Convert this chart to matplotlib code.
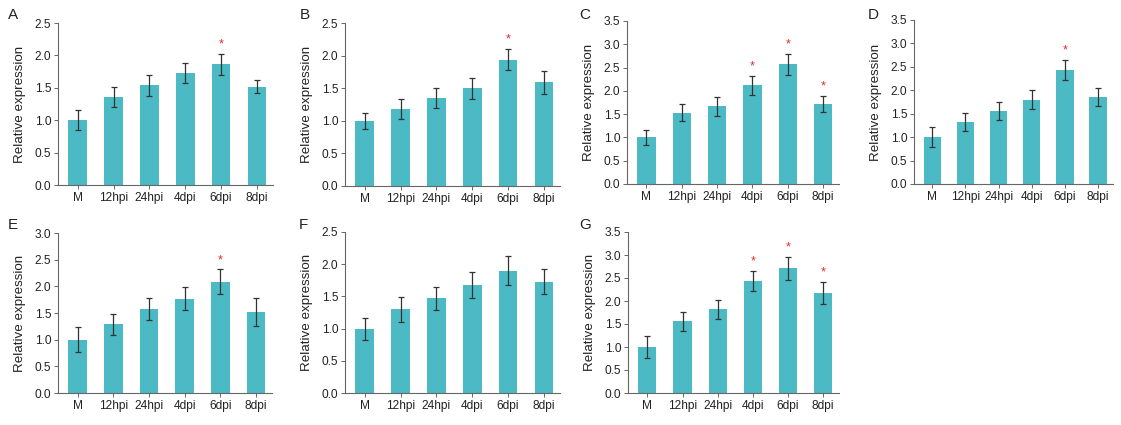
import numpy as np
import matplotlib.pyplot as plt

plt.rcParams['font.family'] = ['Liberation Sans', 'DejaVu Sans']

groups = ['M', '12hpi', '24hpi', '4dpi', '6dpi', '8dpi']

# mean and error for each panel
a_mean = [1.00, 1.36, 1.54, 1.73, 1.86, 1.52]
a_err = [0.15, 0.16, 0.16, 0.16, 0.16, 0.10]
a_sig = [4]

b_mean = [1.00, 1.18, 1.35, 1.50, 1.94, 1.59]
b_err = [0.12, 0.15, 0.15, 0.16, 0.16, 0.18]
b_sig = [4]

c_mean = [1.00, 1.53, 1.67, 2.12, 2.57, 1.72]
c_err = [0.17, 0.18, 0.20, 0.20, 0.23, 0.17]
c_sig = [3, 4, 5]

d_mean = [1.00, 1.33, 1.55, 1.80, 2.43, 1.86]
d_err = [0.21, 0.19, 0.19, 0.21, 0.22, 0.19]
d_sig = [4]

e_mean = [1.00, 1.29, 1.57, 1.77, 2.09, 1.52]
e_err = [0.23, 0.20, 0.21, 0.21, 0.23, 0.26]
e_sig = [4]

f_mean = [1.00, 1.30, 1.47, 1.68, 1.90, 1.73]
f_err = [0.17, 0.19, 0.18, 0.20, 0.22, 0.19]
f_sig = []

g_mean = [1.00, 1.56, 1.82, 2.44, 2.71, 2.17]
g_err = [0.23, 0.21, 0.21, 0.22, 0.25, 0.24]
g_sig = [3, 4, 5]

bar_color = '#4BBAC4'

# (label, mean, err, sig, ymax, axes rect in pixels: left, right, top, bottom, label x, label y)
panels = [
    ('A', a_mean, a_err, a_sig, 2.5, (58, 273, 23, 185), (13, 15)),
    ('B', b_mean, b_err, b_sig, 2.5, (345, 560, 23, 186), (305, 15)),
    ('C', c_mean, c_err, c_sig, 3.5, (627, 839, 21, 184), (585, 15)),
    ('D', d_mean, d_err, d_sig, 3.5, (914, 1113, 20, 184), (873, 15)),
    ('E', e_mean, e_err, e_sig, 3.0, (58, 272, 233, 393), (13, 225)),
    ('F', f_mean, f_err, f_sig, 2.5, (345, 560, 232, 393), (303, 225)),
    ('G', g_mean, g_err, g_sig, 3.5, (628, 839, 232, 393), (585, 225)),
]

W, H = 1121, 425
fig = plt.figure(figsize=(W / 100, H / 100), dpi=100)

for name, mean, err, sig, ymax, (l, r, t, b), (lx, ly) in panels:
    ax = fig.add_axes([l / W, 1 - b / H, (r - l) / W, (b - t) / H])
    x = np.arange(len(groups))
    ax.bar(x, mean, width=0.52, color=bar_color)
    ax.errorbar(x, mean, yerr=err, fmt='none', ecolor='#333333',
                elinewidth=0.9, capsize=2.5, capthick=0.9)
    for i in sig:
        ax.text(x[i], mean[i] + err[i] + ymax * 0.02, '*', color='#e8262b',
                ha='center', va='bottom', fontsize=9)
    ax.set_xlim(-0.55, 5.45)
    ax.set_ylim(0, ymax)
    ticks = np.arange(0, ymax + 0.01, 0.5)
    ax.set_yticks(ticks)
    ax.set_yticklabels([f'{v:.1f}' for v in ticks])
    ax.set_xticks(x)
    ax.set_xticklabels(groups)
    ax.tick_params(labelsize=8.6, length=3, width=0.7, color='#666666',
                   labelcolor='#222222', pad=2)
    ax.set_ylabel('Relative expression', fontsize=9.6, color='#222222')
    ax.yaxis.set_label_coords(-32 / (r - l), 0.5)
    for s in ['top', 'right']:
        ax.spines[s].set_visible(False)
    for s in ['left', 'bottom']:
        ax.spines[s].set_color('#666666')
        ax.spines[s].set_linewidth(0.8)
    fig.text(lx / W, 1 - ly / H, name, fontsize=11, ha='center', va='center',
             color='#222222')

fig.savefig('out.png', dpi=100)
